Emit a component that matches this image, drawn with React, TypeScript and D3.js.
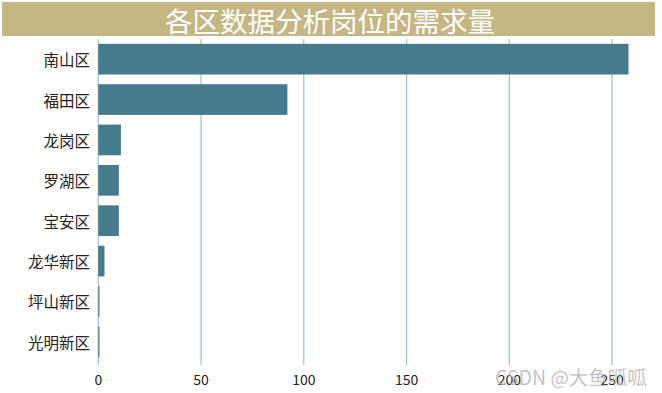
import React from "react";
import * as d3 from "d3";

const categories = ["南山区", "福田区", "龙岗区", "罗湖区", "宝安区", "龙华新区", "坪山新区", "光明新区"];
const values = [258, 92, 11, 10, 10, 3, 0.6, 0.6];
const xTicks = [0, 50, 100, 150, 200, 250];
const title = "各区数据分析岗位的需求量";
const watermark = "CSDN @大鱼呱呱";

const W = 662;
const H = 393;
const FONT = "'Noto Sans CJK SC', 'Noto Sans', sans-serif";

export default function App() {
  const left = 98.3;
  const right = 655;
  const top = 39;
  const bottom = 362;
  const x = d3.scaleLinear().domain([0, 258 * 1.05]).range([left, right]);
  const y = d3.scaleBand<string>().domain(categories).range([top, bottom]).paddingInner(0.24).paddingOuter(0.12);
  return (
    <svg width={W} height={H} style={{ position: "absolute", left: 0, top: 0, background: "#fff" }}>
      <rect x={2} y={2} width={653} height={34} fill="#c5b784" />
      <text x={330} y={20} textAnchor="middle" dominantBaseline="central" fill="#fff" fontSize={27.5} fontFamily={FONT}>
        {title}
      </text>
      {xTicks.map((t) => (
        <g key={t}>
          <line x1={x(t)} x2={x(t)} y1={top} y2={bottom + 3} stroke="#a3c6cf" strokeWidth={1.3} />
          <text x={x(t)} y={379} textAnchor="middle" dominantBaseline="central" fontSize={14} fill="#222" fontFamily={FONT}>
            {t}
          </text>
        </g>
      ))}
      {categories.map((c, i) => (
        <g key={c}>
          <rect x={x(0)} y={y(c)} width={Math.max(0, x(values[i]) - x(0))} height={y.bandwidth()} fill="#467b8d" />
          <text x={90} y={(y(c) as number) + y.bandwidth() / 2} textAnchor="end" dominantBaseline="central" fontSize={15.5} fill="#222" fontFamily={FONT}>
            {c}
          </text>
        </g>
      ))}
      <text x={495} y={376} fontSize={19.5} fill="#b8b8b8" fillOpacity={0.85} fontFamily={FONT} dominantBaseline="central">
        {watermark}
      </text>
    </svg>
  );
}
